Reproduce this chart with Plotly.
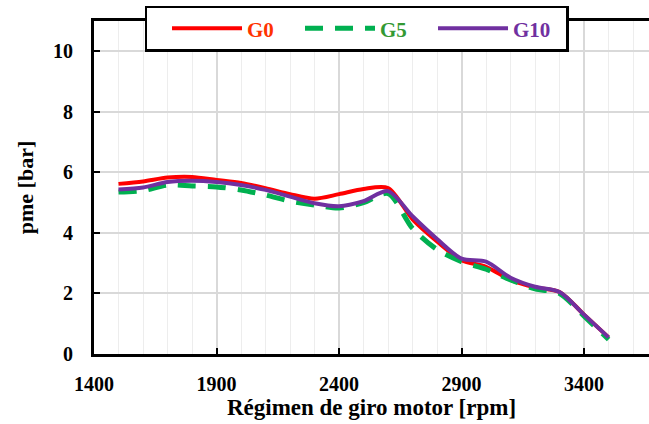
import plotly.graph_objects as go

rpm = [1500, 1600, 1700, 1800, 1900, 2000, 2100, 2200, 2300, 2400, 2500,
       2600, 2700, 2800, 2900, 3000, 3100, 3200, 3300, 3400, 3500]
g0 = [5.62, 5.70, 5.83, 5.85, 5.75, 5.65, 5.48, 5.28, 5.13, 5.28, 5.45,
      5.48, 4.45, 3.72, 3.10, 2.88, 2.45, 2.20, 2.05, 1.30, 0.55]
g5 = [5.35, 5.40, 5.58, 5.55, 5.52, 5.42, 5.25, 5.05, 4.92, 4.82, 5.00,
      5.30, 4.15, 3.45, 3.05, 2.80, 2.45, 2.15, 2.00, 1.25, 0.48]
g10 = [5.43, 5.50, 5.68, 5.72, 5.68, 5.58, 5.42, 5.20, 4.98, 4.88, 5.05,
       5.38, 4.55, 3.80, 3.15, 3.05, 2.52, 2.22, 2.05, 1.30, 0.55]

series = [
    ("G0", g0, "#FF0000", "solid", 4, "#FF3300"),
    ("G5", g5, "#00B050", "18px,12px", 5, "#339933"),
    ("G10", g10, "#7030A0", "solid", 4, "#7030A0"),
]

FONT = "Liberation Serif"

fig = go.Figure()
for name, ys, col, dash, w, tcol in series:
    fig.add_trace(go.Scatter(
        x=rpm, y=ys, mode="lines",
        name=f"<span style='color:{tcol}'>{name}</span>",
        line=dict(color=col, width=w, dash=dash, shape="spline", smoothing=0.8),
    ))

fig.update_layout(
    width=649, height=424,
    margin=dict(l=94, r=0, t=21, b=70, autoexpand=False),
    paper_bgcolor="white", plot_bgcolor="white",
    font=dict(family=FONT, size=20, color="black", weight="bold"),
    showlegend=True,
    legend=dict(
        orientation="h", x=0.473, xanchor="center", y=0.977, yanchor="middle",
        bgcolor="white", bordercolor="black", borderwidth=2.5,
        font=dict(family=FONT, size=21, weight="bold"),
        itemwidth=70, entrywidth=48, entrywidthmode="pixels",
        title=dict(text="&nbsp;&nbsp;&nbsp;&nbsp;", side="left", font=dict(size=10)),
    ),
)

fig.update_xaxes(
    range=[1400, 3665], dtick=500, tick0=1400,
    showline=True, linecolor="black", linewidth=3, mirror=True,
    ticks="inside", ticklen=6, tickwidth=2, tickcolor="black",
    showgrid=True, gridcolor="#D9D9D9", gridwidth=1.5,
    minor=dict(dtick=100, showgrid=True, gridcolor="#EDEDED", gridwidth=1),
    zeroline=False,
    ticklabelstandoff=10,
    title=dict(text="Régimen de giro motor [rpm]", font=dict(size=23), standoff=5),
)
fig.update_yaxes(
    range=[0, 11], dtick=2, tick0=0,
    showline=True, linecolor="black", linewidth=3,
    ticks="inside", ticklen=6, tickwidth=2, tickcolor="black",
    showgrid=True, gridcolor="#D9D9D9", gridwidth=1.5,
    zeroline=False,
    ticklabelstandoff=14,
    title=dict(text="pme [bar]", font=dict(size=22), standoff=14),
)

fig.write_html("out.html", config={"displayModeBar": False},
               post_script="document.body.style.margin='0px';")
